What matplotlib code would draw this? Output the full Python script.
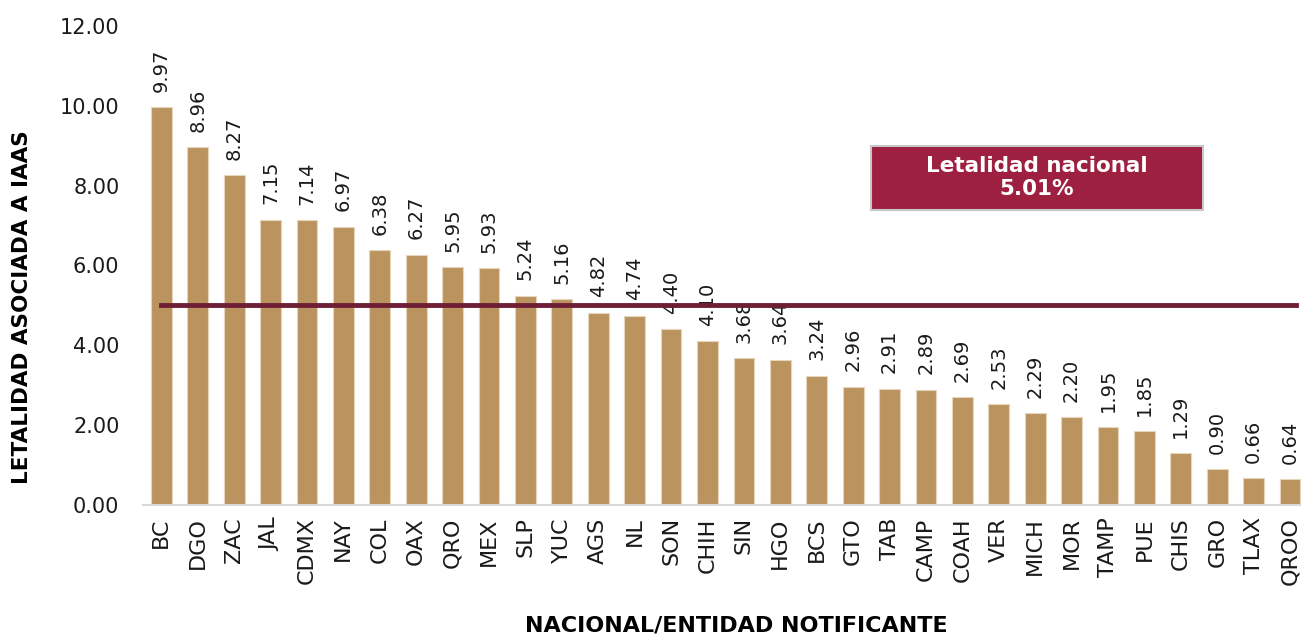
import matplotlib.pyplot as plt
from matplotlib.patches import Rectangle

estados = ['BC', 'DGO', 'ZAC', 'JAL', 'CDMX', 'NAY', 'COL', 'OAX', 'QRO', 'MEX',
           'SLP', 'YUC', 'AGS', 'NL', 'SON', 'CHIH', 'SIN', 'HGO', 'BCS', 'GTO',
           'TAB', 'CAMP', 'COAH', 'VER', 'MICH', 'MOR', 'TAMP', 'PUE', 'CHIS',
           'GRO', 'TLAX', 'QROO']
letalidad = [9.97, 8.96, 8.27, 7.15, 7.14, 6.97, 6.38, 6.27, 5.95, 5.93,
             5.24, 5.16, 4.82, 4.74, 4.40, 4.10, 3.68, 3.64, 3.24, 2.96,
             2.91, 2.89, 2.69, 2.53, 2.29, 2.20, 1.95, 1.85, 1.29, 0.90,
             0.66, 0.64]
nacional = 5.01
yticks = [0, 2, 4, 6, 8, 10, 12]

plt.rcParams['font.family'] = ['DejaVu Sans']

fig = plt.figure(figsize=(13.01, 6.35), dpi=100)
ax = fig.add_axes([0.11, 0.205, 0.89, 0.754])

x = range(len(estados))
ax.bar(x, letalidad, width=0.57, color='#BA935E', edgecolor='#E6D6BC', linewidth=0.8)

for xi, v in zip(x, letalidad):
    ax.annotate(f'{v:.2f}', (xi, v), xytext=(0, 11), textcoords='offset points',
                rotation=90, ha='center', va='bottom', fontsize=14, color='#1a1a1a')

# linea de letalidad nacional
ax.plot([0, len(estados) - 0.85], [nacional, nacional], color='#6E1F36', linewidth=3.5, zorder=3)

# recuadro
ax.add_patch(Rectangle((19.48, 7.4), 9.12, 1.6, facecolor='#9E2040', edgecolor='#C8C8C8',
                       linewidth=1.5, zorder=4))
ax.text(24.04, 8.2, f'Letalidad nacional\n{nacional:.2f}%', ha='center', va='center',
        fontsize=15.5, fontweight='bold', color='white', linespacing=1.15, zorder=5)

ax.set_xlim(-0.5, 31.3)
ax.set_ylim(0, 12)
ax.set_yticks(yticks)
ax.set_yticklabels([f'{t:.2f}' for t in yticks], fontsize=15, color='#1a1a1a')
ax.set_xticks(list(x))
ax.set_xticklabels(estados, rotation=90, fontsize=16, color='#1a1a1a')
ax.tick_params(length=0, pad=9)
ax.tick_params(axis='y', pad=17)

for s in ['top', 'right', 'left']:
    ax.spines[s].set_visible(False)
ax.spines['bottom'].set_color('#D9D9D9')
ax.spines['bottom'].set_linewidth(1.5)

ax.set_ylabel('LETALIDAD ASOCIADA A IAAS', fontsize=15.5, fontweight='bold')
ax.yaxis.set_label_coords(-0.096, 0.413)
ax.set_xlabel('NACIONAL/ENTIDAD NOTIFICANTE', fontsize=16, fontweight='bold')
ax.xaxis.set_label_coords(0.512, -0.232)

fig.savefig('out.png', dpi=100)
